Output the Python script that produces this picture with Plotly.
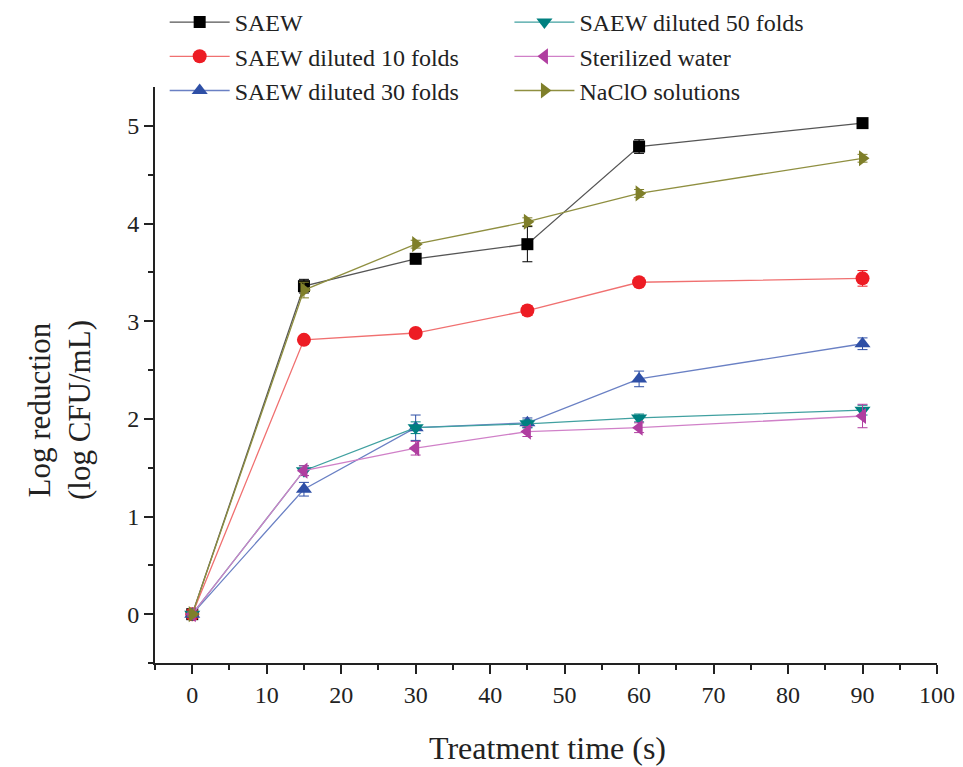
import plotly.graph_objects as go

time_s = [0, 15, 30, 45, 60, 90]

saew = [0.0, 3.36, 3.64, 3.79, 4.79, 5.03]
saew_err = [0.02, 0.07, 0.04, 0.18, 0.07, 0.04]
d10 = [0.0, 2.81, 2.88, 3.11, 3.40, 3.44]
d10_err = [0.02, 0.04, 0.04, 0.05, 0.04, 0.08]
d30 = [0.0, 1.28, 1.91, 1.96, 2.41, 2.77]
d30_err = [0.02, 0.07, 0.13, 0.05, 0.08, 0.06]
d50 = [0.0, 1.47, 1.91, 1.95, 2.01, 2.09]
d50_err = [0.02, 0.05, 0.06, 0.04, 0.04, 0.05]
sterile = [0.0, 1.47, 1.70, 1.87, 1.91, 2.03]
sterile_err = [0.02, 0.05, 0.07, 0.05, 0.05, 0.12]
naclo = [0.0, 3.32, 3.79, 4.02, 4.31, 4.67]
naclo_err = [0.02, 0.08, 0.04, 0.04, 0.04, 0.04]

x_title = "Treatment time (s)"
y_title = "Log reduction<br>(log CFU/mL)"

series = [
    ("SAEW", saew, saew_err, "#000000", "#555555", "square", 12, "legend"),
    ("SAEW diluted 10 folds", d10, d10_err, "#ED1C24", "#F07070", "circle", 14, "legend"),
    ("SAEW diluted 30 folds", d30, d30_err, "#2E4FA6", "#6A80C4", "triangle-up", 14, "legend"),
    ("SAEW diluted 50 folds", d50, d50_err, "#008080", "#40A0A0", "triangle-down", 14, "legend2"),
    ("Sterilized water", sterile, sterile_err, "#B03EA0", "#D080C8", "triangle-left", 14, "legend2"),
    ("NaClO solutions", naclo, naclo_err, "#7F7F2A", "#8F8F40", "triangle-right", 14, "legend2"),
]

fig = go.Figure()
for name, vals, errs, mcol, lcol, sym, size, leg in series:
    fig.add_trace(go.Scatter(
        x=time_s, y=vals, name=name, mode="lines+markers",
        line=dict(color=lcol, width=1.3),
        marker=dict(symbol=sym, size=size, color=mcol),
        error_y=dict(type="data", array=errs, color=mcol, thickness=1, width=5),
        legend=leg,
    ))

font = "Liberation Serif, Times New Roman, serif"
legend_common = dict(
    font=dict(family=font, size=24, color="#222222"),
    bgcolor="rgba(0,0,0,0)", tracegroupgap=0, itemwidth=60,
    xanchor="left", yanchor="top", yref="container", xref="container",
)
fig.update_layout(
    width=963, height=767,
    margin=dict(l=155, r=26, t=87, b=104, autoexpand=False),
    paper_bgcolor="white", plot_bgcolor="white",
    font=dict(family=font, size=24, color="#222222"),
    legend=dict(x=0.171, y=1.005, **legend_common),
    legend2=dict(x=0.529, y=1.005, **legend_common),
    xaxis=dict(
        range=[-5, 100], tickvals=[0, 10, 20, 30, 40, 50, 60, 70, 80, 90, 100],
        showline=True, linecolor="#222222", linewidth=2, ticks="outside",
        ticklen=9, tickwidth=1.5, tickcolor="#222222", showgrid=False, zeroline=False,
        minor=dict(dtick=5, tick0=0, ticks="outside", ticklen=5, tickwidth=1.5, tickcolor="#222222"),
        tickfont=dict(size=24),
    ),
    yaxis=dict(
        range=[-0.5, 5.4], tickvals=[0, 1, 2, 3, 4, 5],
        showline=True, linecolor="#222222", linewidth=2, ticks="outside",
        ticklen=9, tickwidth=1.5, tickcolor="#222222", showgrid=False, zeroline=False,
        minor=dict(dtick=0.5, tick0=0, ticks="outside", ticklen=5, tickwidth=1.5, tickcolor="#222222"),
        tickfont=dict(size=24),
    ),
    annotations=[
        dict(text=x_title, xref="paper", yref="paper", x=(547 - 155) / 782, y=-(748 - 663) / 576,
             xanchor="center", yanchor="middle", showarrow=False, font=dict(size=32)),
        dict(text=y_title, xref="paper", yref="paper", x=-(155 - 59) / 782, y=(663 - 410) / 576,
             xanchor="center", yanchor="middle", textangle=-90, showarrow=False, font=dict(size=31)),
    ],
)
fig.write_html("out.html")
